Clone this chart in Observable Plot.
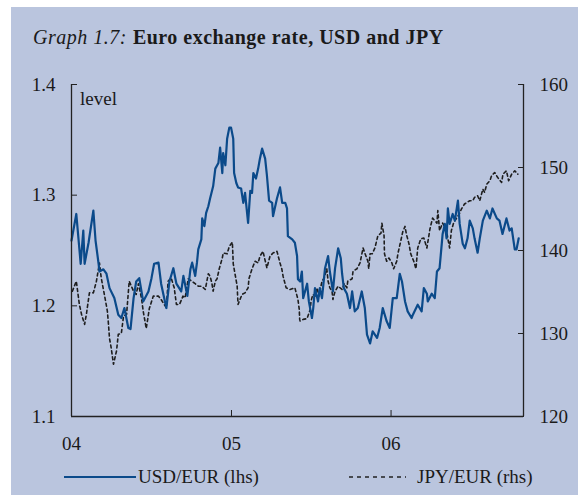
<!DOCTYPE html>
<html>
<head>
<meta charset="utf-8">
<script src="https://cdn.jsdelivr.net/npm/d3@7"></script>
<script src="https://cdn.jsdelivr.net/npm/@observablehq/plot@0.6"></script>
<style>
  body { margin: 0; background: #ffffff; width: 578px; height: 495px; overflow: hidden; position: relative; font-family: "Liberation Serif", "Times New Roman", serif; color: #1a1a1a; }
  #panel { position: absolute; left: 11px; top: 7px; width: 567px; height: 488px; background: #bac5de; }
  #title { position: absolute; left: 33px; top: 27px; font-size: 20px; line-height: 20px; letter-spacing: 0.5px; white-space: nowrap; }
  #title i { font-style: italic; }
  #title b { font-weight: bold; margin-left: 6px; }
  #chart { position: absolute; left: 0; top: 0; }
  #level { position: absolute; left: 80px; top: 89px; font-size: 19px; line-height: 19px; }
  .leg { position: absolute; font-size: 19px; line-height: 19px; white-space: nowrap; }
  .sw { position: absolute; }
</style>
</head>
<body>
<div id="panel"></div>
<div id="title"><i>Graph 1.7:</i><b>Euro exchange rate, USD and JPY</b></div>
<div id="chart"></div>
<div id="level">level</div>
<svg class="sw" style="left:63px;top:470px" width="74" height="14"><line x1="1" x2="73" y1="7" y2="7" stroke="#0b4a8a" stroke-width="2"/></svg>
<div class="leg" style="left:138px;top:467px">USD/EUR (lhs)</div>
<svg class="sw" style="left:348px;top:470px" width="60" height="14"><line x1="1" x2="58" y1="7" y2="7" stroke="#222" stroke-width="1.5" stroke-dasharray="4,4"/></svg>
<div class="leg" style="left:417px;top:467px">JPY/EUR (rhs)</div>
<script>
// USD/EUR (left-hand scale)
const usdDates = ["2004-01-01","2004-01-12","2004-01-22","2004-01-28","2004-01-31","2004-02-09","2004-02-20","2004-02-25","2004-03-03","2004-03-05","2004-03-14","2004-03-21","2004-03-28","2004-04-08","2004-04-17","2004-04-24","2004-05-01","2004-05-10","2004-05-15","2004-05-22","2004-05-28","2004-06-04","2004-06-13","2004-06-25","2004-07-02","2004-07-08","2004-07-18","2004-07-24","2004-07-31","2004-08-05","2004-08-12","2004-08-21","2004-08-28","2004-09-08","2004-09-13","2004-09-22","2004-09-29","2004-10-03","2004-10-10","2004-10-14","2004-10-17","2004-10-24","2004-10-26","2004-10-31","2004-11-04","2004-11-09","2004-11-13","2004-11-20","2004-11-25","2004-12-02","2004-12-06","2004-12-11","2004-12-13","2004-12-18","2004-12-22","2004-12-27","2004-12-31","2005-01-05","2005-01-07","2005-01-12","2005-01-16","2005-01-23","2005-01-28","2005-02-01","2005-02-08","2005-02-13","2005-02-17","2005-02-20","2005-02-26","2005-03-03","2005-03-07","2005-03-12","2005-03-19","2005-03-23","2005-03-28","2005-04-04","2005-04-06","2005-04-15","2005-04-22","2005-04-27","2005-05-04","2005-05-08","2005-05-10","2005-05-20","2005-05-26","2005-05-31","2005-06-02","2005-06-07","2005-06-11","2005-06-14","2005-06-23","2005-06-27","2005-07-04","2005-07-07","2005-07-11","2005-07-18","2005-07-22","2005-07-27","2005-08-03","2005-08-10","2005-08-14","2005-08-21","2005-08-26","2005-09-02","2005-09-08","2005-09-11","2005-09-15","2005-09-22","2005-09-29","2005-10-04","2005-10-10","2005-10-17","2005-10-26","2005-11-02","2005-11-07","2005-11-14","2005-11-20","2005-11-30","2005-12-06","2005-12-13","2005-12-22","2005-12-29","2006-01-05","2006-01-14","2006-01-21","2006-01-26","2006-02-02","2006-02-08","2006-02-17","2006-02-20","2006-03-03","2006-03-12","2006-03-17","2006-03-24","2006-03-26","2006-04-04","2006-04-11","2006-04-16","2006-04-22","2006-04-27","2006-04-29","2006-05-04","2006-05-08","2006-05-11","2006-05-15","2006-05-22","2006-05-27","2006-06-03","2006-06-07","2006-06-14","2006-06-19","2006-06-25","2006-06-30","2006-07-07","2006-07-11","2006-07-18","2006-07-23","2006-07-30","2006-08-08","2006-08-15","2006-08-21","2006-08-31","2006-09-06","2006-09-13","2006-09-22","2006-09-29","2006-10-04","2006-10-11","2006-10-15","2006-10-20"];
const usdValues = [1.259,1.283,1.238,1.268,1.238,1.257,1.286,1.259,1.238,1.231,1.233,1.229,1.216,1.207,1.192,1.189,1.198,1.180,1.179,1.207,1.222,1.225,1.204,1.213,1.225,1.238,1.239,1.220,1.207,1.198,1.222,1.234,1.220,1.213,1.227,1.209,1.233,1.239,1.227,1.239,1.251,1.260,1.279,1.272,1.284,1.290,1.297,1.308,1.324,1.329,1.343,1.320,1.338,1.327,1.351,1.361,1.361,1.351,1.320,1.311,1.307,1.306,1.293,1.302,1.275,1.304,1.302,1.320,1.315,1.324,1.333,1.342,1.333,1.318,1.295,1.293,1.281,1.297,1.307,1.293,1.293,1.288,1.263,1.260,1.257,1.245,1.224,1.222,1.231,1.207,1.220,1.204,1.189,1.198,1.216,1.204,1.216,1.207,1.234,1.245,1.231,1.213,1.234,1.252,1.243,1.229,1.216,1.211,1.198,1.213,1.195,1.198,1.213,1.198,1.174,1.166,1.177,1.171,1.180,1.198,1.186,1.180,1.207,1.207,1.229,1.222,1.204,1.195,1.189,1.192,1.201,1.195,1.216,1.211,1.204,1.211,1.207,1.231,1.234,1.256,1.265,1.274,1.261,1.288,1.274,1.283,1.277,1.295,1.274,1.256,1.252,1.261,1.277,1.270,1.261,1.248,1.261,1.277,1.286,1.279,1.288,1.279,1.277,1.265,1.279,1.268,1.270,1.251,1.251,1.261];

// JPY/EUR (right-hand scale)
const jpyDates = ["2004-01-03","2004-01-12","2004-01-19","2004-01-24","2004-01-31","2004-02-04","2004-02-11","2004-02-20","2004-02-27","2004-03-05","2004-03-09","2004-03-14","2004-03-19","2004-03-23","2004-03-25","2004-03-28","2004-04-01","2004-04-06","2004-04-13","2004-04-17","2004-04-24","2004-04-29","2004-05-06","2004-05-12","2004-05-22","2004-05-28","2004-06-02","2004-06-09","2004-06-13","2004-06-20","2004-06-25","2004-06-27","2004-07-06","2004-07-18","2004-07-24","2004-07-31","2004-08-05","2004-08-09","2004-08-16","2004-08-23","2004-08-28","2004-09-04","2004-09-12","2004-09-17","2004-09-24","2004-10-10","2004-10-17","2004-10-25","2004-11-02","2004-11-09","2004-11-13","2004-11-17","2004-11-20","2004-11-25","2004-11-29","2004-12-04","2004-12-11","2004-12-13","2004-12-22","2004-12-27","2005-01-03","2005-01-05","2005-01-09","2005-01-14","2005-01-15","2005-01-16","2005-01-25","2005-02-01","2005-02-08","2005-02-10","2005-02-17","2005-02-24","2005-03-03","2005-03-07","2005-03-14","2005-03-23","2005-03-30","2005-04-06","2005-04-15","2005-04-22","2005-04-26","2005-04-29","2005-05-06","2005-05-15","2005-05-26","2005-06-02","2005-06-05","2005-06-06","2005-06-07","2005-06-14","2005-06-23","2005-06-30","2005-07-02","2005-07-06","2005-07-11","2005-07-16","2005-07-20","2005-07-27","2005-08-01","2005-08-07","2005-08-10","2005-08-14","2005-08-19","2005-08-21","2005-08-26","2005-09-02","2005-09-11","2005-09-16","2005-09-22","2005-09-24","2005-10-04","2005-10-06","2005-10-15","2005-10-22","2005-10-29","2005-11-02","2005-11-09","2005-11-11","2005-11-14","2005-11-19","2005-11-25","2005-12-02","2005-12-09","2005-12-11","2005-12-16","2005-12-17","2005-12-22","2005-12-27","2006-01-03","2006-01-07","2006-01-14","2006-01-17","2006-01-23","2006-01-28","2006-02-02","2006-02-05","2006-02-11","2006-02-15","2006-02-22","2006-02-27","2006-03-03","2006-03-10","2006-03-17","2006-03-24","2006-03-31","2006-04-06","2006-04-16","2006-04-18","2006-04-22","2006-04-29","2006-05-08","2006-05-11","2006-05-15","2006-05-19","2006-05-24","2006-05-31","2006-06-07","2006-06-11","2006-06-18","2006-06-30","2006-07-07","2006-07-11","2006-07-18","2006-07-23","2006-07-30","2006-08-03","2006-08-08","2006-08-15","2006-08-19","2006-08-26","2006-09-02","2006-09-11","2006-09-14","2006-09-22","2006-09-27","2006-10-04","2006-10-11","2006-10-18"];
const jpyValues = [135.1,136.3,133.5,132.3,131.1,132.3,134.9,134.9,136.3,138.5,136.7,135.3,133.9,132.7,131.5,129.4,128.2,126.3,127.9,129.9,130.0,132.1,132.3,136.3,135.1,134.7,136.0,134.3,132.7,130.6,132.3,133.0,134.5,134.5,134.1,133.5,133.1,136.3,136.7,135.5,133.5,133.5,134.5,134.3,136.6,136.0,135.7,135.7,135.3,137.2,136.9,136.1,135.1,136.3,136.6,137.8,139.1,139.7,139.6,140.5,141.0,138.4,137.2,135.7,134.5,133.5,134.7,134.9,135.5,136.6,137.8,138.7,138.5,139.3,139.9,137.9,139.3,139.7,139.9,138.5,137.8,136.9,135.5,135.3,135.5,134.1,132.9,131.7,131.5,131.7,131.8,132.9,133.9,134.7,134.5,135.5,134.5,136.3,136.7,137.8,136.3,135.5,135.1,134.1,135.1,135.7,135.3,136.0,135.5,136.3,136.6,137.5,137.8,138.5,140.3,139.7,138.7,137.8,139.6,139.6,140.3,141.8,142.1,143.3,141.8,139.6,138.7,139.1,138.5,137.8,138.7,139.7,141.1,142.3,142.9,142.0,140.8,139.6,138.7,137.8,140.3,141.4,141.5,140.3,142.6,143.9,143.3,144.8,142.4,143.3,142.4,141.4,140.3,142.4,143.3,143.9,144.5,145.0,145.6,146.0,146.0,146.4,146.6,146.0,147.4,147.0,148.0,148.4,149.0,149.4,148.8,148.2,149.2,149.6,148.4,149.2,149.6,149.2];

const leftTicks = [1.1, 1.2, 1.3, 1.4];
const rightTicks = [120, 130, 140, 150, 160];
const xTickYears = ["2004-01-01", "2005-01-01", "2006-01-01"];
const xStart = "2004-01-01", xEnd = "2006-10-31";

const lDom = [1.1, 1.4], rDom = [120, 160];
const toLeft = v => lDom[0] + (v - rDom[0]) / (rDom[1] - rDom[0]) * (lDom[1] - lDom[0]);
const toRight = v => rDom[0] + (v - lDom[0]) / (lDom[1] - lDom[0]) * (rDom[1] - rDom[0]);

const usd = usdDates.map((d, i) => ({date: new Date(d), v: usdValues[i]}));
const jpy = jpyDates.map((d, i) => ({date: new Date(d), v: jpyValues[i]}));
const x0 = new Date(xStart), x1 = new Date(xEnd);

const chart = Plot.plot({
  width: 578,
  height: 460,
  marginLeft: 71,
  marginRight: 55,
  marginTop: 84,
  marginBottom: 44,
  style: {background: "transparent", fontFamily: "'Liberation Serif', 'Times New Roman', serif", fontSize: "19px", color: "#1a1a1a", overflow: "visible"},
  x: {type: "utc", domain: [x0, x1]},
  y: {domain: lDom},
  marks: [
    Plot.line(jpy, {x: "date", y: d => toLeft(d.v), stroke: "#1e1e1e", strokeWidth: 1.6, strokeDasharray: "3,3"}),
    Plot.line(usd, {x: "date", y: "v", stroke: "#0b4a8a", strokeWidth: 2.2}),
    Plot.ruleX([x0, x1], {stroke: "#222", strokeWidth: 1.3}),
    Plot.ruleY([lDom[0]], {stroke: "#222", strokeWidth: 1.3}),
    Plot.axisY(leftTicks, {anchor: "left", tickSize: -6, tickPadding: 22, tickFormat: d3.format(".1f"), label: null, stroke: "#222"}),
    Plot.axisY(rightTicks.map(toLeft), {anchor: "right", tickSize: -6, tickPadding: 22, tickFormat: d => String(Math.round(toRight(d))), label: null, stroke: "#222"}),
    Plot.axisX(xTickYears.map(d => new Date(d)), {anchor: "bottom", tickSize: -6, tickPadding: 26, tickFormat: d3.utcFormat("%y"), label: null, stroke: "#222"})
  ]
});
document.getElementById("chart").appendChild(chart);
</script>
</body>
</html>
